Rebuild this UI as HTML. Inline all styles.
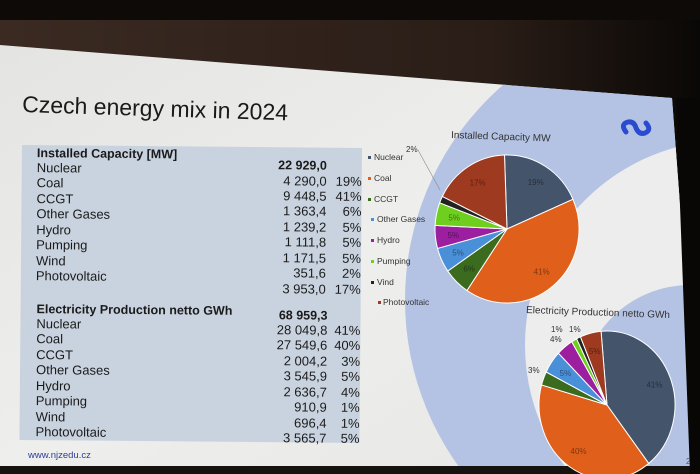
<!DOCTYPE html>
<html><head><meta charset="utf-8"><style>
html,body{margin:0;padding:0;width:700px;height:474px;overflow:hidden;background:#000}
svg{display:block}
text{font-family:"Liberation Sans",sans-serif}
</style></head><body>
<svg width="700" height="474" viewBox="0 0 700 474" xmlns="http://www.w3.org/2000/svg">
<defs>
<linearGradient id="wall" x1="0" y1="0" x2="1" y2="0">
<stop offset="0" stop-color="#3a2a22"/><stop offset="0.7" stop-color="#2a1d17"/><stop offset="1" stop-color="#0a0806"/>
</linearGradient>
<linearGradient id="slide" x1="0" y1="0" x2="1" y2="1">
<stop offset="0" stop-color="#e4e4e2"/><stop offset="0.5" stop-color="#eeeeec"/><stop offset="1" stop-color="#e6e6e4"/>
</linearGradient>
<clipPath id="sc"><polygon points="0,45 672,98 700,474 0,474"/></clipPath>
</defs>
<rect width="700" height="474" fill="url(#wall)"/>
<rect x="0" y="0" width="700" height="20" fill="#0d0a08"/>
<polygon points="0,45 672,98 700,474 0,474" fill="url(#slide)"/>
<g clip-path="url(#sc)">
<circle cx="690" cy="300" r="285" fill="#b4c3e4"/>
<circle cx="730" cy="345" r="205" fill="#ecedec"/>
<circle cx="690" cy="395" r="110" fill="#b4c3e4"/>
</g>
<rect x="0" y="466" width="700" height="8" fill="#151210"/>
<polygon points="676,98 700,98 700,474 690,474" fill="#080706"/>

<text x="22" y="112" font-size="23" fill="#1a1a1a" transform="rotate(1.8 22 112)">Czech energy mix in 2024</text>

<g transform="rotate(0.5 22 145)">
<rect x="22" y="145" width="340" height="295" fill="#c9d3df"/>
<g font-size="13" fill="#1a1a1a">
<text x="37" y="157" font-weight="bold" font-size="12.5">Installed Capacity [MW]</text>
<text x="37" y="172">Nuclear</text><text x="37" y="187">Coal</text><text x="37" y="203">CCGT</text>
<text x="37" y="218">Other Gases</text><text x="37" y="234">Hydro</text><text x="37" y="249">Pumping</text>
<text x="37" y="265">Wind</text><text x="37" y="280">Photovoltaic</text>
<g text-anchor="end">
<text x="327" y="167" font-weight="bold" font-size="12.5">22 929,0</text>
<text x="327" y="183">4 290,0</text><text x="362" y="183">19%</text>
<text x="327" y="198">9 448,5</text><text x="362" y="198">41%</text>
<text x="327" y="213">1 363,4</text><text x="362" y="213">6%</text>
<text x="327" y="229">1 239,2</text><text x="362" y="229">5%</text>
<text x="327" y="244">1 111,8</text><text x="362" y="244">5%</text>
<text x="327" y="260">1 171,5</text><text x="362" y="260">5%</text>
<text x="327" y="275">351,6</text><text x="362" y="275">2%</text>
<text x="327" y="291">3 953,0</text><text x="362" y="291">17%</text>
</g>
<text x="38" y="313" font-weight="bold" font-size="12.5">Electricity Production netto GWh</text>
<text x="38" y="328">Nuclear</text><text x="38" y="343">Coal</text><text x="38" y="359">CCGT</text>
<text x="38" y="374">Other Gases</text><text x="38" y="390">Hydro</text><text x="38" y="405">Pumping</text>
<text x="38" y="421">Wind</text><text x="38" y="436">Photovoltaic</text>
<g text-anchor="end">
<text x="329" y="317" font-weight="bold" font-size="12.5">68 959,3</text>
<text x="329" y="332">28 049,8</text><text x="362" y="332">41%</text>
<text x="329" y="347">27 549,6</text><text x="362" y="347">40%</text>
<text x="329" y="363">2 004,2</text><text x="362" y="363">3%</text>
<text x="329" y="378">3 545,9</text><text x="362" y="378">5%</text>
<text x="329" y="394">2 636,7</text><text x="362" y="394">4%</text>
<text x="329" y="409">910,9</text><text x="362" y="409">1%</text>
<text x="329" y="425">696,4</text><text x="362" y="425">1%</text>
<text x="329" y="440">3 565,7</text><text x="362" y="440">5%</text>
</g>
</g>
</g>
<text x="28" y="458" font-size="9.5" fill="#2b3f9a">www.njzedu.cz</text>
<text x="686" y="464" font-size="8" fill="#555">2</text>

<g font-size="8.5" fill="#333">
<rect x="368" y="156" width="3" height="3" fill="#44546a"/><text x="374" y="160">Nuclear</text>
<rect x="368" y="177" width="3" height="3" fill="#e0601b"/><text x="374" y="181">Coal</text>
<rect x="368" y="198" width="3" height="3" fill="#3a6b1e"/><text x="374" y="202">CCGT</text>
<rect x="371" y="218" width="3" height="3" fill="#4a90d9"/><text x="377" y="222">Other Gases</text>
<rect x="371" y="239" width="3" height="3" fill="#9b1f9e"/><text x="377" y="243">Hydro</text>
<rect x="371" y="260" width="3" height="3" fill="#6fcf1f"/><text x="377" y="264">Pumping</text>
<rect x="371" y="281" width="3" height="3" fill="#222"/><text x="377" y="285">Vind</text>
<rect x="378" y="301" width="3" height="3" fill="#9e3a1f"/><text x="383" y="305">Photovoltaic</text>
</g>
<text x="451" y="138" font-size="10" fill="#333" transform="rotate(2 451 138)">Installed Capacity MW</text>
<text x="526" y="313" font-size="10" fill="#333" transform="rotate(2 526 313)">Electricity Production netto GWh</text>
<text x="406" y="152" font-size="8" fill="#333">2%</text>
<line x1="418" y1="150" x2="440" y2="190" stroke="#888" stroke-width="0.6"/>
<text x="551" y="332" font-size="8" fill="#333">1%</text><text x="569" y="332" font-size="8" fill="#333">1%</text>
<text x="550" y="342" font-size="8" fill="#333">4%</text><text x="528" y="373" font-size="8" fill="#333">3%</text>

<path d="M626 132 q-6 -8 2 -10 q6 -1 8 6 q3 7 9 5 q7 -3 1 -10" fill="none" stroke="#2a4bd0" stroke-width="5" stroke-linecap="round"/>

<g id="p1"></g><g id="p2"></g>
</svg>
<script>
function pie(id,cx,cy,rx,ry,start,vals,cols,labels){
 var g=document.getElementById(id),a=start*Math.PI/180,tot=vals.reduce(function(s,v){return s+v},0),h='';
 for(var i=0;i<vals.length;i++){
  var b=a+vals[i]/tot*2*Math.PI;
  var x1=cx+rx*Math.sin(a),y1=cy-ry*Math.cos(a),x2=cx+rx*Math.sin(b),y2=cy-ry*Math.cos(b);
  h+='<path d="M'+cx+' '+cy+' L'+x1+' '+y1+' A'+rx+' '+ry+' 0 '+((b-a)>Math.PI?1:0)+' 1 '+x2+' '+y2+' Z" fill="'+cols[i]+'" stroke="#fff" stroke-width="1"/>';
  if(labels[i]){var m=(a+b)/2;h+='<text x="'+(cx+rx*0.75*Math.sin(m))+'" y="'+(cy-ry*0.75*Math.cos(m)+3)+'" font-size="8" text-anchor="middle" fill="rgba(0,0,0,0.45)">'+labels[i]+'</text>';}
  a=b;}
 g.innerHTML=h;}
var cols=['#44546a','#e0601b','#3a6b1e','#4a90d9','#9b1f9e','#6fcf1f','#222','#9e3a1f'];
pie('p1',507,229,72,74,-2,[19,41,6,5.4,5,5,1.5,17.2],cols,['19%','41%','6%','5%','5%','5%','','17%']);
pie('p2',607,405,68,74,-5,[41,40,3,5,4,1.3,1,5],cols,['41%','40%','','5%','','','','5%']);
</script>
</body></html>
